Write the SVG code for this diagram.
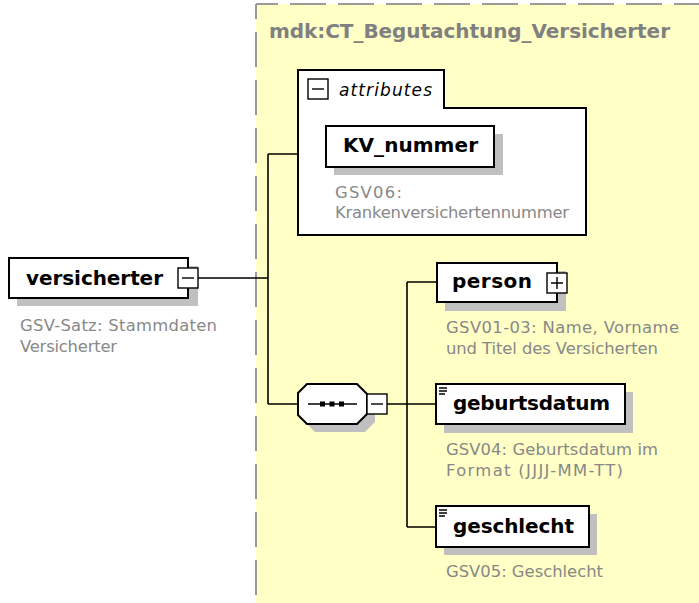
<svg xmlns="http://www.w3.org/2000/svg" width="699" height="603" viewBox="0 0 699 603">
<style>
.box{fill:#fff;stroke:#000;stroke-width:2}
.shadow{fill:#c0c0c0}
.con{fill:none;stroke:#000;stroke-width:1.6}
.btn{fill:#fff;stroke:#000;stroke-width:1.4}
.sign{stroke:#000;stroke-width:1.4;fill:none}
.name{font-family:"DejaVu Sans",Verdana,sans-serif;font-weight:bold;font-size:20px;fill:#000}
.desc{font-family:"DejaVu Sans",Verdana,sans-serif;font-size:16.4px;fill:#888}
.title{font-family:"DejaVu Sans",Verdana,sans-serif;font-weight:bold;font-size:20px;fill:#808080}
.attr{font-family:"DejaVu Sans",Verdana,sans-serif;font-style:italic;font-size:17px;fill:#000}
.dash{stroke:#9a9a9a;stroke-width:2;fill:none}
</style>
<rect width="699" height="603" fill="#fff"/>
<g id="complexType">
<rect x="256" y="4" width="443" height="599" fill="#ffffc6"/>
<path class="dash" d="M256 4 H710" stroke-dasharray="36 12" stroke-dashoffset="14"/>
<path class="dash" d="M256 595 V4" stroke-dasharray="35 13"/>
<text class="title" x="269" y="38" textLength="401" lengthAdjust="spacing">mdk:CT_Begutachtung_Versicherter</text>
</g>
<g id="connectors">
<path class="con" d="M198 278 H268 M268 154 V404 M268 154 H298 M268 404 H298 M387 404 H407 M407 282 V527 M407 282 H437 M407 404 H436 M407 527 H436"/>
</g>
<g id="versicherter">
<rect class="shadow" x="17" y="266" width="181" height="40"/>
<rect class="box" x="9" y="258" width="179" height="40"/>
<text class="name" x="26" y="285" textLength="137" lengthAdjust="spacing">versicherter</text>
<rect class="btn" x="178" y="268" width="20" height="20"/>
<path class="sign" d="M182 278 H194"/>
<text class="desc" x="20" y="331" textLength="197" lengthAdjust="spacing">GSV-Satz: Stammdaten</text>
<text class="desc" x="20" y="352" textLength="97" lengthAdjust="spacing">Versicherter</text>
</g>
<g id="attributes">
<path class="box" d="M298 70 H444 V108 H586 V235 H298 Z"/>
<rect class="btn" x="308" y="79" width="20" height="20"/>
<path class="sign" d="M312 89 H324"/>
<text class="attr" x="339" y="96" textLength="93" lengthAdjust="spacing">attributes</text>
</g>
<g id="KV_nummer">
<rect class="shadow" x="334" y="134" width="169" height="41"/>
<rect class="box" x="326" y="126" width="168" height="41"/>
<text class="name" x="343" y="152" textLength="135" lengthAdjust="spacing">KV_nummer</text>
<text class="desc" x="335" y="198" textLength="67" lengthAdjust="spacing">GSV06:</text>
<text class="desc" x="335" y="218" textLength="234" lengthAdjust="spacing">Krankenversichertennummer</text>
</g>
<g id="sequence">
<polygon class="shadow" points="315,392 365,392 375,402 375,422 365,432 315,432 306,423 306,401"/>
<polygon class="box" points="307,384 357,384 367,394 367,414 357,424 307,424 298,415 298,393" stroke-width="1.6"/>
<path class="sign" d="M308 404 H357" stroke-width="1.6"/>
<rect x="320" y="401.5" width="5" height="5" fill="#000"/>
<rect x="329.5" y="401.5" width="5" height="5" fill="#000"/>
<rect x="339" y="401.5" width="5" height="5" fill="#000"/>
<rect class="btn" x="367" y="394" width="20" height="20"/>
<path class="sign" d="M371 404 H383"/>
</g>
<g id="person">
<rect class="shadow" x="445" y="271" width="121" height="40"/>
<rect class="box" x="437" y="263" width="120" height="39"/>
<text class="name" x="452" y="288" textLength="80" lengthAdjust="spacing">person</text>
<rect class="btn" x="547" y="273" width="20" height="20"/>
<path class="sign" d="M551 283 H563 M557 277 V289"/>
<text class="desc" x="446" y="333" textLength="233" lengthAdjust="spacing">GSV01-03: Name, Vorname</text>
<text class="desc" x="446" y="354" textLength="212" lengthAdjust="spacing">und Titel des Versicherten</text>
</g>
<g id="geburtsdatum">
<rect class="shadow" x="444" y="392" width="189" height="41"/>
<rect class="box" x="436" y="384" width="189" height="40"/>
<path class="sign" d="M439 388 H447 M439 391 H447 M439 394 H445" stroke-width="1.2"/>
<text class="name" x="453" y="410" textLength="157" lengthAdjust="spacing">geburtsdatum</text>
<text class="desc" x="446" y="455" textLength="212" lengthAdjust="spacing">GSV04: Geburtsdatum im</text>
<text class="desc" x="446" y="476" textLength="177" lengthAdjust="spacing">Format (JJJJ-MM-TT)</text>
</g>
<g id="geschlecht">
<rect class="shadow" x="444" y="514" width="153" height="41"/>
<rect class="box" x="436" y="506" width="153" height="41"/>
<path class="sign" d="M439 510 H447 M439 513 H447 M439 516 H445" stroke-width="1.2"/>
<text class="name" x="453" y="533" textLength="121" lengthAdjust="spacing">geschlecht</text>
<text class="desc" x="446" y="577" textLength="157" lengthAdjust="spacing">GSV05: Geschlecht</text>
</g>
</svg>
